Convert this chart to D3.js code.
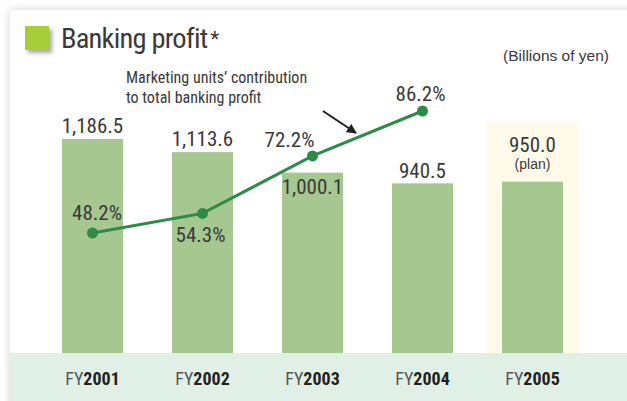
<!DOCTYPE html>
<html lang="en">
<head>
    <meta charset="UTF-8">
    <title>Banking profit</title>
    <script src="https://d3js.org/d3.v7.min.js"></script>
    <style>
        body { margin: 0; background: #fff; }
        svg { display: block; }
        text { font-family: "Liberation Sans Narrow", "Roboto Condensed", "DejaVu Sans Condensed", sans-serif; fill: #3a3a3a; }
    </style>
</head>
<body>
<div id="container"></div>
<script>
    // data
    const years = ['2001', '2002', '2003', '2004', '2005'];
    const profit = [1186.5, 1113.6, 1000.1, 940.5, 950.0];
    const profitLabels = ['1,186.5', '1,113.6', '1,000.1', '940.5', '950.0'];
    const contribution = [48.2, 54.3, 72.2, 86.2];
    const contributionLabels = ['48.2%', '54.3%', '72.2%', '86.2%'];
    const planYear = '2005';

    const width = 627, height = 401;
    const baseline = 353;
    const barWidth = 61;

    const svg = d3.select('#container').append('svg')
        .attr('width', width)
        .attr('height', height);

    // card shadow
    const defs = svg.append('defs');
    const f = defs.append('filter').attr('id', 'shadow')
        .attr('x', '-10%').attr('y', '-10%').attr('width', '130%').attr('height', '130%');
    f.append('feDropShadow').attr('dx', 0).attr('dy', 0).attr('stdDeviation', 4)
        .attr('flood-color', '#000').attr('flood-opacity', 0.18);
    const f2 = defs.append('filter').attr('id', 'sqshadow')
        .attr('x', '-30%').attr('y', '-30%').attr('width', '180%').attr('height', '180%');
    f2.append('feDropShadow').attr('dx', 3).attr('dy', 3).attr('stdDeviation', 2)
        .attr('flood-color', '#000').attr('flood-opacity', 0.35);

    svg.append('rect')
        .attr('x', 10).attr('y', 10)
        .attr('width', 660).attr('height', 440)
        .attr('fill', '#fff')
        .attr('filter', 'url(#shadow)');

    // bottom band
    svg.append('rect')
        .attr('x', 10).attr('y', baseline)
        .attr('width', width).attr('height', height - baseline)
        .attr('fill', '#e0f0e6');

    // scales
    const x = d3.scalePoint()
        .domain(years)
        .range([92.5, 532.5]);

    const y = d3.scaleLinear()
        .domain([0, 1186.5])
        .range([baseline, 139]);

    const yPct = d3.scaleLinear()
        .domain([48.2, 86.2])
        .range([233, 111]);

    // plan highlight
    svg.append('rect')
        .attr('x', x(planYear) - 46)
        .attr('y', 122)
        .attr('width', 92)
        .attr('height', baseline - 122)
        .attr('fill', '#fffbe8');

    // bars
    svg.selectAll('.bar')
        .data(profit)
        .enter()
        .append('rect')
        .attr('class', 'bar')
        .attr('x', (d, i) => x(years[i]) - barWidth / 2)
        .attr('y', d => y(d))
        .attr('width', barWidth)
        .attr('height', d => baseline - y(d))
        .attr('fill', '#a6c78f');

    // bar labels
    const barLabelDy = [-6, -6, 21, -5, -30];
    svg.selectAll('.barlabel')
        .data(profitLabels)
        .enter()
        .append('text')
        .attr('x', (d, i) => x(years[i]))
        .attr('y', (d, i) => y(profit[i]) + barLabelDy[i])
        .attr('text-anchor', 'middle')
        .attr('font-size', 21)
        .text(d => d);

    svg.append('text')
        .attr('x', x(planYear))
        .attr('y', 169)
        .attr('text-anchor', 'middle')
        .attr('font-size', 14)
        .style('font-family', '"Liberation Sans", Arial, sans-serif')
        .text('(plan)');

    // contribution line
    const line = d3.line()
        .x((d, i) => x(years[i]))
        .y(d => yPct(d));

    svg.append('path')
        .datum(contribution)
        .attr('d', line)
        .attr('fill', 'none')
        .attr('stroke', '#2e8b47')
        .attr('stroke-width', 3);

    svg.selectAll('.dot')
        .data(contribution)
        .enter()
        .append('circle')
        .attr('cx', (d, i) => x(years[i]))
        .attr('cy', d => yPct(d))
        .attr('r', 5.5)
        .attr('fill', '#2e8b47');

    const pctDx = [4.5, -2, -23, -2];
    const pctDy = [-13, 29, -9, -10];
    svg.selectAll('.pct')
        .data(contributionLabels)
        .enter()
        .append('text')
        .attr('x', (d, i) => x(years[i]) + pctDx[i])
        .attr('y', (d, i) => yPct(contribution[i]) + pctDy[i])
        .attr('text-anchor', 'middle')
        .attr('font-size', 21)
        .text(d => d);

    // arrow
    defs.append('marker').attr('id', 'arrow')
        .attr('viewBox', '0 0 10 10').attr('refX', 9).attr('refY', 5)
        .attr('markerWidth', 5).attr('markerHeight', 5)
        .attr('orient', 'auto')
        .append('path').attr('d', 'M0,0 L10,5 L0,10 z').attr('fill', '#231f20');

    svg.append('line')
        .attr('x1', 323).attr('y1', 111)
        .attr('x2', 356).attr('y2', 133)
        .attr('stroke', '#231f20')
        .attr('stroke-width', 2)
        .attr('marker-end', 'url(#arrow)');

    // annotation
    svg.append('text')
        .attr('x', 126).attr('y', 83)
        .attr('font-size', 16)
        .text('Marketing units\u2019 contribution');
    svg.append('text')
        .attr('x', 126).attr('y', 103)
        .attr('font-size', 16)
        .text('to total banking profit');

    // title
    svg.append('rect')
        .attr('x', 25).attr('y', 26)
        .attr('width', 24).attr('height', 24)
        .attr('fill', '#a6ce39')
        .attr('filter', 'url(#sqshadow)');

    const title = svg.append('text')
        .attr('x', 61).attr('y', 48)
        .attr('font-size', 28.5)
        .attr('letter-spacing', -0.8);
    title.append('tspan').text('Banking profit');
    title.append('tspan').attr('font-size', 21).attr('dx', 3).attr('dy', -2).text('*');

    svg.append('text')
        .attr('x', 609).attr('y', 61)
        .attr('text-anchor', 'end')
        .attr('font-size', 15.5)
        .style('font-family', '"Liberation Sans", Arial, sans-serif')
        .text('(Billions of yen)');

    // x labels
    const xl = svg.selectAll('.xlabel')
        .data(years)
        .enter()
        .append('text')
        .attr('x', d => x(d))
        .attr('y', 385)
        .attr('text-anchor', 'middle')
        .attr('font-size', 18);
    xl.append('tspan').text('FY').attr('fill', '#555');
    xl.append('tspan').text(d => d).attr('font-weight', 'bold').attr('fill', '#231f20');
</script>
</body>
</html>
